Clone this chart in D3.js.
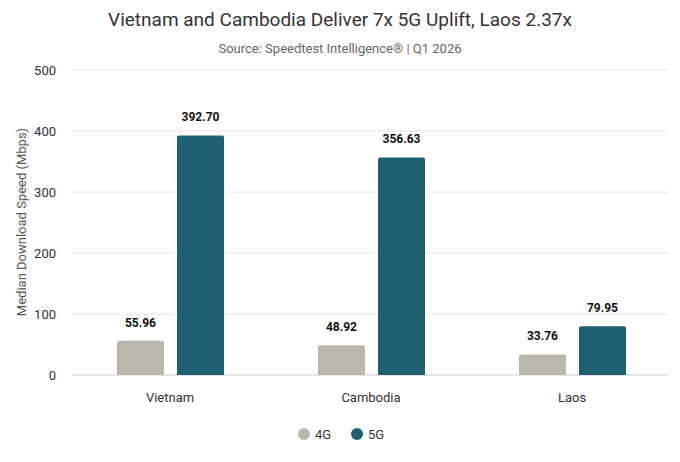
<!DOCTYPE html>
<html><head><meta charset="utf-8">
<script src="https://cdn.jsdelivr.net/npm/d3@7"></script>
<style>body{margin:0;background:#fff;font-family:Roboto,"Open Sans",sans-serif}</style>
</head><body><svg id="c" width="680" height="462"></svg>
<script>
const categories=["Vietnam","Cambodia","Laos"];
const seriesNames=["4G","5G"];
const values4G=[55.96,48.92,33.76];
const values5G=[392.70,356.63,79.95];
const yTicks=[0,100,200,300,400,500];
const colors=["#b9b7ae","#1f5f72"];
const svg=d3.select("#c");
const m={l:72,r:668,t:70,b:375};
const x=d3.scaleBand().domain(categories).range([m.l,m.l+603]);
const xs=d3.scaleBand().domain(seriesNames).range([45,152]).paddingInner(0.217).paddingOuter(0);
const y=d3.scaleLinear().domain([0,500]).range([m.b,m.t]);
svg.append("text").attr("x",340).attr("y",26).attr("text-anchor","middle").attr("font-size",19).attr("fill","#333").text("Vietnam and Cambodia Deliver 7x 5G Uplift, Laos 2.37x");
svg.append("text").attr("x",340).attr("y",53).attr("text-anchor","middle").attr("font-size",13).attr("fill","#666").text("Source: Speedtest Intelligence® | Q1 2026");
const g=svg.append("g");
yTicks.forEach(t=>{
 g.append("line").attr("x1",m.l).attr("x2",m.r).attr("y1",y(t)).attr("y2",y(t)).attr("stroke",t===0?"#ccc":"#e6e6e6");
 g.append("text").attr("x",56).attr("y",y(t)+5).attr("text-anchor","end").attr("font-size",13).attr("fill","#333").text(t);
});
svg.append("text").attr("transform","translate(26,222) rotate(-90)").attr("text-anchor","middle").attr("font-size",13).attr("fill","#555").text("Median Download Speed (Mbps)");
categories.forEach((c,i)=>{
 [values4G[i],values5G[i]].forEach((v,j)=>{
  const bx=x(c)+xs(seriesNames[j]), w=xs.bandwidth(), top=y(v), r=2;
  svg.append("path").attr("fill",colors[j]).attr("d",`M${bx},${y(0)}V${top+r}Q${bx},${top} ${bx+r},${top}H${bx+w-r}Q${bx+w},${top} ${bx+w},${top+r}V${y(0)}Z`);
  svg.append("text").attr("x",bx+w/2).attr("y",top-14).attr("text-anchor","middle").attr("font-size",12).attr("font-weight","bold").attr("fill","#111").text(v.toFixed(2));
 });
 svg.append("text").attr("x",x(c)+98).attr("y",402).attr("text-anchor","middle").attr("font-size",13).attr("fill","#333").text(c);
});
const leg=[[304,"4G"],[357,"5G"]];
leg.forEach(([lx,n],i)=>{
 svg.append("circle").attr("cx",lx).attr("cy",434).attr("r",6).attr("fill",colors[i]);
 svg.append("text").attr("x",lx+11).attr("y",439).attr("font-size",13).attr("fill","#333").text(n);
});
</script></body></html>
